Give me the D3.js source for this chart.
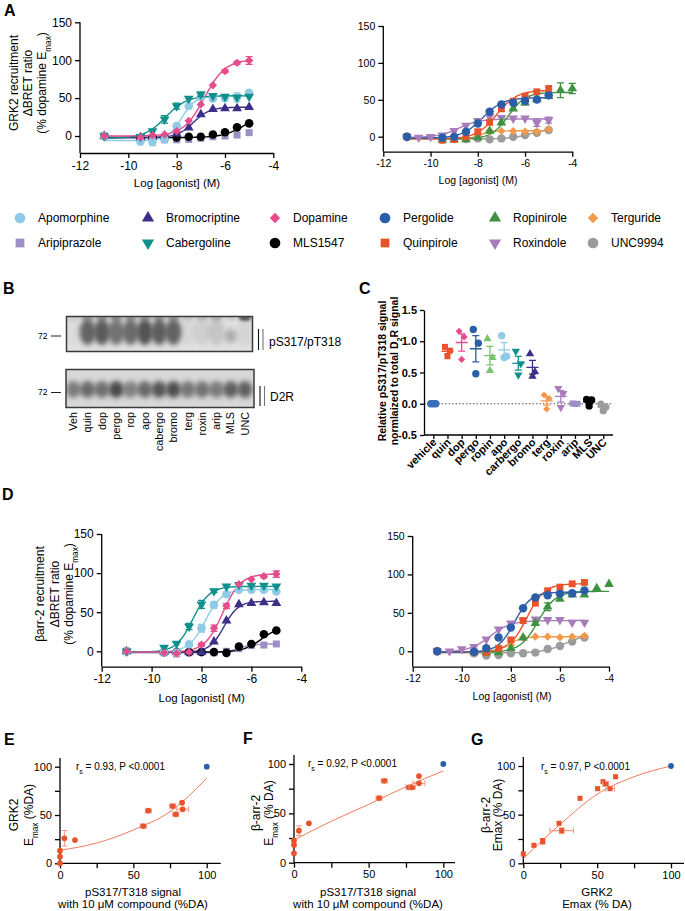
<!DOCTYPE html>
<html><head><meta charset="utf-8">
<script src="https://cdn.jsdelivr.net/npm/d3@7"></script>
<style>
body{margin:0;background:#fff}
svg{display:block;font-family:"Liberation Sans",Arial,Helvetica,sans-serif}
</style>
</head><body>
<svg id="fig" width="685" height="911"></svg>
<script>
// ================= DATA =================
const xTicksDR = [-12, -10, -8, -6, -4];
const yTicksDR = [0, 50, 100, 150];
const concStd = [-11, -9.5, -9, -8.5, -8, -7.5, -7, -6.5, -6, -5.5, -5];
const concRox = [-11, -10.5, -10, -9.5, -9, -8.5, -8, -7.5, -7, -6.5, -6, -5.5, -5];
const concRop = [-9.5, -9, -8.5, -8, -7.5, -7, -6.5, -6, -5.5, -5, -4.5, -4];

// Panel A: GRK2 recruitment (% dopamine Emax)
const grk2Apo   = [0, -7.5, -7.5, -4.4, 13, 39.5, 51.8, 49.5, 50, 51, 57];
const grk2Arip  = [0, -3, -4, -5, -5, -4.5, -3, -1, 0, 1.3, 4.4];
const grk2Bromo = [0, -2, -1, 0, 3, 11, 28.5, 35.5, 36.4, 36.4, 38];
const grk2Cab   = [0, -1, 6.5, 22, 39.5, 49.5, 55, 53, 52, 51, 52];
const grk2Dop   = [0, -2, 1, 2, 6.5, 20, 41.7, 67, 85.5, 96.5, 99.6];
const grk2Mls   = [0, -3, -2, -3, -2, -1, -1, 2, 5, 11.4, 16.7];
const grk2Perg  = [0, -1.4, 0, 6.8, 18, 33.8, 43.7, 46, 48.6, 50.5, 56];
const grk2Quin  = [0, -4.5, -3.6, 0, 6.8, 19.4, 37.8, 48, 55, 60.8, 65.3];
const grk2Rop   = [-4.5, -4, -3.6, -1, 7.7, 19, 38, 46, 50.5, 55, 63, 65.3];
const grk2Rox   = [0, -1, 0, 2, 8, 15, 21.6, 27, 25.7, 24.8, 24.8, 19, 22.5];
const grk2Terg  = [0, -2, -2, -2, 2, 8, 7.7, 7.7, 6.8, 6.8, 10];
const grk2Unc   = [0, -4, -3, -3, -2.3, -3.6, -2.3, 0, 2.3, 5.4, 9];
const grk2ApoErr = [0, 0, 5, 0, 3, 2, 2, 3, 0, 6, 2];
const grk2CabErr = [0, 0, 0, 5, 4, 0, 3, 0, 0, 0, 0];
const grk2DopErr = [0, 0, 0, 0, 0, 0, 0, 0, 2, 2, 5];
const grk2RopErr = [0, 0, 0, 0, 0, 0, 0, 3, 0, 0, 10, 7];
const grk2RoxErr = [0, 0, 0, 0, 0, 0, 0, 0, 0, 0, 0, 5, 4];
// fitted curve parameters: [bottom, top, logEC50, hill]
const fitGrk2 = {
  Apomorphine: [-6, 53, -7.8, 1.5], Bromocriptine: [-2, 38, -7.3, 1.3], Cabergoline: [-3, 53, -8.45, 1],
  Dopamine: [0, 101, -6.85, 1], MLS1547: [-2, 30, -5.2, 1], Aripiprazole: null,
  Pergolide: [-2, 53, -7.8, 1], Quinpirole: [-3, 63, -7.2, 1], Ropinirole: [-3, 60, -6.7, 1.2],
  Roxindole: [-1, 24, -8.8, 1], Terguride: [-3, 8, -7.9, 2], UNC9994: [-3, 12, -5.7, 1]
};

// Panel D: beta-arrestin-2 recruitment (% dopamine Emax)
const barrApo   = [0, -1, -1.7, 9, 29.5, 59.4, 73, 78.6, 78.6, 78.6, 76.5];
const barrArip  = [0, -2, -3.4, -2, -1, -2, 0, 3.4, 7.3, 8, 9.4];
const barrBromo = [0, -1, -1, -1, -1, 12.4, 39.3, 60, 61.5, 62.4, 61.5];
const barrCab   = [0, 4.7, 10, 31.6, 60, 77, 83, 85, 84, 84, 83];
const barrDop   = [0, -1.7, -2.6, -1, 8.5, 29.5, 58, 86, 92, 96, 98.7];
const barrMls   = [0, -1, -1, -1, -1, -1, -2, 6, 9.4, 21.8, 26.5];
const barrPerg  = [0, -0.5, 3.9, 18, 31, 56, 70, 73, 74.8, 75.6, 79];
const barrQuin  = [0, -1, -1.7, 3.9, 14.8, 40, 62.6, 78.7, 83.5, 87.8, 89.6];
const barrRop   = [-1, -1, -1.5, 3.9, 17.8, 36.5, 58, 68, 73.5, 73.5, 82, 87.4];
const barrRox   = [0, 0, 3, 6, 15.6, 28.7, 36.5, 40, 41.7, 40.9, 40.9, 37.4, 37.4];
const barrTerg  = [0, -1, -1, 1.7, 8, 17.8, 19, 19, 18, 19, 20];
const barrUnc   = [0, -2.6, -5.6, -4.8, -2.6, -2.6, -1.7, 3, 7, 12.6, 18];
const barrApoErr = [0, 0, 0, 0, 5, 4, 2, 0, 0, 0, 0];
const barrCabErr = [0, 0, 0, 4, 5, 2, 0, 0, 0, 0, 0];
const barrDopErr = [0, 0, 0, 0, 2, 4, 3, 0, 0, 2, 4];
const barrRopErr = [0, 0, 0, 0, 0, 2, 5, 0, 0, 0, 0, 0];
const fitBarr = {
  Apomorphine: [-1, 79, -7.85, 1.3], Aripiprazole: [-2, 9.5, -6.5, 1.5], Bromocriptine: [-1, 64, -7.1, 1.5],
  Cabergoline: [-1, 83, -8.35, 1.3], Dopamine: [-1, 99, -7.15, 1.2], MLS1547: [-1, 32, -5.6, 1.2],
  Pergolide: [-1, 77, -7.85, 1.3], Quinpirole: [-1, 88, -7.35, 1.2], Ropinirole: [-1, 78, -6.9, 1.2],
  Roxindole: [-1, 40, -8.85, 1], Terguride: [-1, 19, -8.1, 1.5], UNC9994: [-2, 22, -5.8, 1]
};

// Legend
const legendNames = ["Apomorphine", "Bromocriptine", "Dopamine", "Pergolide", "Ropinirole", "Terguride",
                     "Aripiprazole", "Cabergoline", "MLS1547", "Quinpirole", "Roxindole", "UNC9994"];

// Panel B: western blot
const blotLanes = ["Veh", "quin", "dop", "pergo", "rop", "apo", "cabergo", "bromo", "terg", "roxin", "arip", "MLS", "UNC"];
const phosphoBand = [0.02, 0.75, 0.8, 0.66, 0.7, 0.85, 0.78, 0.76, 0.05, 0.1, 0.16, 0.3, 0.06];
const phosphoTop  = [0.1, 0.35, 0.35, 0.4, 0.35, 0.35, 0.35, 0.35, 0.15, 0.2, 0.25, 0.1, 0.8];
const totalBand   = [0.55, 0.66, 0.62, 0.85, 0.52, 0.66, 0.78, 0.82, 0.58, 0.6, 0.55, 0.72, 0.72];

// Panel C: relative pS317/pT318 signal
const cCats = ["vehicle", "quin", "dop", "pergo", "ropin", "apo", "carbergo", "bromo", "terg", "roxin", "arip", "MLS", "UNC"];
const cVals = [[0, 0, 0], [0.91, 0.85, 0.76], [1.16, 1.07, 0.71], [1.19, 0.97, 0.48], [1.04, 0.74, 0.53],
  [1.09, 0.76, 0.74], [0.84, 0.64, 0.46], [0.80, 0.51, 0.44], [0.14, 0.085, -0.085], [0.245, 0.165, -0.06],
  [0.005, 0, -0.005], [0.07, 0.06, -0.035], [-0.005, -0.05, -0.11]];
const cTicks = [-0.5, 0, 0.5, 1.0, 1.5];

// Panels E, F, G: correlations
const corrTicks = [0, 25, 50, 75, 100];
const eX = [0, 0, 0, 3, 10.2, 56.8, 60.2, 76.8, 78.9, 83.2, 83.6];
const eY = [0, 6.9, 13.1, 25.9, 24, 38.6, 54.5, 59.3, 50.7, 62.8, 55.9];
const eXerr = [0, 0, 0, 0, 0, 2, 2, 2, 2, 0, 4];
const eYerr = [0, 0, 0, 8, 0, 0, 0, 0, 0, 0, 0];
const eFit = [[0, 13.5], [25, 21], [50, 34.5], [75, 53.5], [100, 88]];
const fX = [0, 0, 0, 3.3, 10, 57, 60.5, 77, 79.2, 83.7, 83.7];
const fY = [9.5, 17.9, 22.3, 32.4, 39.9, 65.5, 83, 76.4, 76.4, 87.8, 80.4];
const fXerr = [0, 0, 0, 0, 0, 2, 2, 2, 2, 0, 4];
const fYerr = [0, 0, 0, 5, 0, 0, 0, 0, 0, 0, 0];
const fFit = [[0, 23], [25, 42], [50, 59], [75, 77], [100, 93]];
const gX = [0, 7.2, 13.1, 13.1, 24.2, 26, 38.4, 50.3, 54, 55.8, 58.7, 62.5];
const gY = [9.6, 18.5, 23.3, 21.9, 41.1, 33.6, 66.8, 76.7, 83.9, 81.5, 76.7, 89];
const gXerr = [0, 0, 0, 0, 0, 8, 0, 0, 0, 2, 3, 0];
const gYerr = [0, 0, 2, 0, 0, 3, 0, 0, 0, 0, 0, 0];
const gFit = [[0, 5], [25, 40], [50, 71], [75, 89], [100, 100]];
const dopRef = [100, 100];

// ================= STYLE =================
const STYLE = {
  Apomorphine: {c: "#8fcbe6", s: "circle"}, Aripiprazole: {c: "#9c8fc6", s: "square"},
  Bromocriptine: {c: "#3b2f88", s: "triUp"}, Cabergoline: {c: "#10908c", s: "triDown"},
  Dopamine: {c: "#e64b8c", s: "diamond"}, MLS1547: {c: "#000000", s: "circle"},
  Pergolide: {c: "#2b5ea9", s: "circle"}, Quinpirole: {c: "#e8532b", s: "square"},
  Ropinirole: {c: "#3e9140", s: "triUp"}, Roxindole: {c: "#a87bba", s: "triDown"},
  Terguride: {c: "#f39a4a", s: "diamond"}, UNC9994: {c: "#9b9b9b", s: "circle"}
};
const svg = d3.select("#fig");
const symType = {circle: d3.symbolCircle, square: d3.symbolSquare, triUp: d3.symbolTriangle, triDown: d3.symbolTriangle, diamond: d3.symbolSquare};
function symPath(shape, size) {
  const sz = shape === "diamond" ? size * 0.6 : shape.startsWith("tri") ? size * 0.72 : shape === "square" ? size * 0.85 : size;
  return d3.symbol().type(symType[shape]).size(sz)();
}
function symRot(shape) { return shape === "triDown" ? " rotate(180)" : shape === "diamond" ? " rotate(45)" : ""; }
function drawSym(g, x, y, shape, color, size) {
  g.append("path").attr("d", symPath(shape, size)).attr("fill", color)
    .attr("transform", `translate(${x},${y})${symRot(shape)}`);
}
function styleAxis(sel, fs, bold) {
  sel.attr("font-family", null).attr("font-size", fs);
  sel.selectAll("line").attr("stroke", "#000").attr("stroke-width", 1.3);
  sel.selectAll("path").attr("stroke", "#000").attr("stroke-width", 1.3);
  sel.selectAll("text").attr("fill", "#000").attr("font-weight", bold ? "bold" : null);
}
function label(txt, x, y, o = {}) {
  const t = svg.append("text").attr("x", x).attr("y", y).text(txt)
    .attr("font-size", o.fs || 12).attr("fill", o.fill || "#000");
  if (o.anchor) t.attr("text-anchor", o.anchor);
  if (o.bold) t.attr("font-weight", "bold");
  return t;
}
function rotLines(lines, x0, dx, cy, fs, bold) {
  lines.forEach((parts, i) => {
    const t = svg.append("text").attr("transform", `translate(${x0 + i * dx},${cy}) rotate(-90)`)
      .attr("text-anchor", "middle").attr("dy", "0.35em").attr("font-size", fs)
      .attr("font-weight", bold ? "bold" : null);
    parts.forEach(p => {
      const ts = t.append("tspan").text(p.t);
      if (p.sub) ts.attr("baseline-shift", "sub").attr("font-size", fs * 0.68);
    });
  });
}

// ================= PANEL LETTERS =================
[["A", 4, 16], ["B", 3, 294], ["C", 359, 294], ["D", 2, 500], ["E", 4, 745], ["F", 243, 744], ["G", 471, 745]]
  .forEach(([t, x, y]) => label(t, x, y, {fs: 16, bold: true}));

// ================= DOSE-RESPONSE =================
function drawDR(cfg, series, fits) {
  const g = svg.append("g");
  const x = d3.scaleLinear().domain([-12, -4]).range([cfg.left, cfg.right]);
  const y = d3.scaleLinear().domain([0, 150]).range([cfg.y0, cfg.y150]);
  const gy = g.append("g").attr("transform", `translate(${cfg.left},0)`)
    .call(d3.axisLeft(y).tickValues(yTicksDR).tickSize(5).tickFormat(d => String(d)));
  gy.select(".domain").remove();
  g.append("line").attr("x1", cfg.left).attr("x2", cfg.left).attr("y1", cfg.axisY).attr("y2", y(150));
  const gx = g.append("g").attr("transform", `translate(0,${cfg.axisY})`)
    .call(d3.axisBottom(x).tickValues(xTicksDR).tickSize(5).tickSizeOuter(0).tickFormat(d => String(d)));
  [gy, gx].forEach(a => styleAxis(a, cfg.fs));
  g.selectAll("line").attr("stroke", "#000").attr("stroke-width", 1.3);
  const line = d3.line().x(d => x(d[0])).y(d => y(d[1]));
  series.forEach(s => {
    const f = fits[s.name];
    if (!f) return;
    const [b, t, ec, h] = f;
    const xs = d3.range(d3.min(s.x), d3.max(s.x) + 0.001, 0.05);
    const pts = xs.map(v => [v, b + (t - b) / (1 + Math.pow(10, (ec - v) * h))]);
    g.append("path").attr("d", line(pts)).attr("fill", "none")
      .attr("stroke", STYLE[s.name].c).attr("stroke-width", 1.4);
  });
  series.forEach(s => {
    const st = STYLE[s.name];
    s.y.forEach((v, i) => {
      const e = s.err ? s.err[i] : 0;
      const cx = x(s.x[i]), cy = y(v);
      if (e > 0) {
        g.append("path").attr("d", `M${cx},${y(v - e)}V${y(v + e)}M${cx - 3.5},${y(v + e)}h7M${cx - 3.5},${y(v - e)}h7`)
          .attr("stroke", st.c).attr("stroke-width", 1.3).attr("fill", "none");
      }
      drawSym(g, cx, cy, st.s, st.c, cfg.ms);
    });
  });
  label("Log [agonist] (M)", cfg.labX, cfg.labY, {fs: cfg.lfs, anchor: "middle"});
}

const sA1 = [
  {name: "Aripiprazole", x: concStd, y: grk2Arip}, {name: "MLS1547", x: concStd, y: grk2Mls},
  {name: "Bromocriptine", x: concStd, y: grk2Bromo}, {name: "Apomorphine", x: concStd, y: grk2Apo, err: grk2ApoErr},
  {name: "Cabergoline", x: concStd, y: grk2Cab, err: grk2CabErr}, {name: "Dopamine", x: concStd, y: grk2Dop, err: grk2DopErr}];
const sA2 = [
  {name: "UNC9994", x: concStd, y: grk2Unc}, {name: "Terguride", x: concStd, y: grk2Terg},
  {name: "Roxindole", x: concRox, y: grk2Rox, err: grk2RoxErr}, {name: "Ropinirole", x: concRop, y: grk2Rop, err: grk2RopErr},
  {name: "Quinpirole", x: concStd, y: grk2Quin}, {name: "Pergolide", x: concStd, y: grk2Perg}];
const sD1 = [
  {name: "Aripiprazole", x: concStd, y: barrArip}, {name: "MLS1547", x: concStd, y: barrMls},
  {name: "Bromocriptine", x: concStd, y: barrBromo}, {name: "Apomorphine", x: concStd, y: barrApo, err: barrApoErr},
  {name: "Cabergoline", x: concStd, y: barrCab, err: barrCabErr}, {name: "Dopamine", x: concStd, y: barrDop, err: barrDopErr}];
const sD2 = [
  {name: "UNC9994", x: concStd, y: barrUnc}, {name: "Terguride", x: concStd, y: barrTerg},
  {name: "Roxindole", x: concRox, y: barrRox}, {name: "Ropinirole", x: concRop, y: barrRop, err: barrRopErr},
  {name: "Quinpirole", x: concStd, y: barrQuin}, {name: "Pergolide", x: concStd, y: barrPerg}];

drawDR({left: 80, right: 273.3, y0: 136, y150: 22.3, axisY: 153, fs: 12, lfs: 11.5, ms: 58, labX: 177, labY: 187}, sA1, fitGrk2);
drawDR({left: 383.3, right: 572.3, y0: 136.7, y150: 26, axisY: 151.7, fs: 10.5, lfs: 10.5, ms: 56, labX: 478, labY: 184}, sA2, fitGrk2);
drawDR({left: 101.7, right: 301.3, y0: 651.3, y150: 534, axisY: 666.7, fs: 12, lfs: 11.5, ms: 58, labX: 201.7, labY: 702}, sD1, fitBarr);
drawDR({left: 412.7, right: 609, y0: 651.3, y150: 536, axisY: 666.7, fs: 10.5, lfs: 10.5, ms: 56, labX: 512, labY: 700}, sD2, fitBarr);

rotLines([[{t: "GRK2 recruitment"}], [{t: "ΔBRET ratio"}], [{t: "(% dopamine E"}, {t: "max", sub: true}, {t: ")"}]], 14, 14, 83, 12);
rotLines([[{t: "βarr-2 recruitment"}], [{t: "ΔBRET ratio"}], [{t: "(% dopamine E"}, {t: "max", sub: true}, {t: ")"}]], 40, 14.5, 594, 12);

// ================= LEGEND =================
const legX = [20, 148, 275, 385, 495, 593];
const legY = [218, 243];
legendNames.forEach((n, i) => {
  const cx = legX[i % 6], cy = legY[Math.floor(i / 6)];
  drawSym(svg, cx, cy, STYLE[n].s, STYLE[n].c, 90);
  label(n, cx + 18, cy, {fs: 12}).attr("dy", "0.35em");
});

// ================= PANEL B (blot) =================
const defs = svg.append("defs");
defs.append("filter").attr("id", "blur").attr("x", "-50%").attr("y", "-50%").attr("width", "200%").attr("height", "200%")
  .append("feGaussianBlur").attr("stdDeviation", 2.8);
defs.append("filter").attr("id", "blur2").attr("x", "-50%").attr("y", "-50%").attr("width", "200%").attr("height", "200%")
  .append("feGaussianBlur").attr("stdDeviation", 1.6);
defs.append("clipPath").attr("id", "clipTop").append("rect").attr("x", 66.5).attr("y", 316.5).attr("width", 186).attr("height", 35);
defs.append("clipPath").attr("id", "clipBot").append("rect").attr("x", 66).attr("y", 369.5).attr("width", 188).attr("height", 38);
const lx = d3.scalePoint().domain(blotLanes).range([73.3, 245]);

svg.append("rect").attr("x", 66.5).attr("y", 316.5).attr("width", 186).attr("height", 35).attr("fill", "#e0e0e0");
const gTop = svg.append("g").attr("clip-path", "url(#clipTop)");
blotLanes.forEach((l, i) => {
  gTop.append("ellipse").attr("cx", lx(l)).attr("cy", i === 11 ? 336 : 332).attr("rx", i === 11 ? 6 : 8).attr("ry", i === 11 ? 7 : 13)
    .attr("fill", "#3a3a3a").attr("opacity", phosphoBand[i]).attr("filter", "url(#blur)");
  gTop.append("ellipse").attr("cx", lx(l)).attr("cy", 318).attr("rx", 6.5).attr("ry", 3)
    .attr("fill", "#333").attr("opacity", phosphoTop[i]).attr("filter", "url(#blur2)");
});
svg.append("rect").attr("x", 66.5).attr("y", 316.5).attr("width", 186).attr("height", 35).attr("fill", "none").attr("stroke", "#3a3a3a").attr("stroke-width", 1.5);

svg.append("rect").attr("x", 66).attr("y", 369.5).attr("width", 188).attr("height", 38).attr("fill", "#d8d8d8");
const gBot = svg.append("g").attr("clip-path", "url(#clipBot)");
blotLanes.forEach((l, i) => {
  gBot.append("ellipse").attr("cx", lx(l)).attr("cy", 389.5).attr("rx", 7.5).attr("ry", 8.5)
    .attr("fill", "#333").attr("opacity", totalBand[i]).attr("filter", "url(#blur)");
});
svg.append("rect").attr("x", 66).attr("y", 369.5).attr("width", 188).attr("height", 38).attr("fill", "none").attr("stroke", "#3a3a3a").attr("stroke-width", 1.5);

[336, 392.5].forEach(yy => {
  label("72", 38, yy, {fs: 8.5}).attr("dy", "0.35em");
  svg.append("line").attr("x1", 51).attr("x2", 61).attr("y1", yy).attr("y2", yy).attr("stroke", "#222").attr("stroke-width", 1);
});
[[258.5, 329, 350], [260, 386, 406]].forEach(([bx, y1, y2]) => {
  svg.append("line").attr("x1", bx).attr("x2", bx).attr("y1", y1).attr("y2", y2).attr("stroke", "#111").attr("stroke-width", 1.1);
  svg.append("line").attr("x1", bx + 4.5).attr("x2", bx + 4.5).attr("y1", y1).attr("y2", y2).attr("stroke", "#777").attr("stroke-width", 1.1);
});
label("pS317/pT318", 269, 342, {fs: 12}).attr("dy", "0.35em");
label("D2R", 270, 397, {fs: 12}).attr("dy", "0.35em");
blotLanes.forEach(l => {
  svg.append("text").attr("transform", `translate(${lx(l)},412) rotate(-90)`).attr("text-anchor", "end")
    .attr("dy", "0.35em").attr("font-size", 10.8).text(l);
});

// ================= PANEL C =================
const cStyle = [
  {c: "#3a6eb6", s: "circle"}, STYLE.Quinpirole, STYLE.Dopamine, STYLE.Pergolide, {c: "#7cc36f", s: "triUp"},
  STYLE.Apomorphine, STYLE.Cabergoline, STYLE.Bromocriptine, STYLE.Terguride, STYLE.Roxindole,
  STYLE.Aripiprazole, STYLE.MLS1547, STYLE.UNC9994];
{
  const g = svg.append("g");
  const x = d3.scalePoint().domain(cCats).range([433.3, 603.3]);
  const y = d3.scaleLinear().domain([-0.5, 1.5]).range([435, 310]);
  g.append("line").attr("x1", 424).attr("x2", 613).attr("y1", y(0)).attr("y2", y(0))
    .attr("stroke", "#555").attr("stroke-width", 1.2).attr("stroke-dasharray", "1.5,2");
  const gy = g.append("g").attr("transform", "translate(424,0)")
    .call(d3.axisLeft(y).tickValues(cTicks).tickSize(4).tickSizeOuter(0).tickFormat(d => d.toFixed(1)));
  const gx = g.append("g").attr("transform", "translate(0,435)")
    .call(d3.axisBottom(x).tickSize(4).tickSizeOuter(0).tickFormat(""));
  gx.select(".domain").attr("d", "M424,0H613");
  styleAxis(gy, 11, true); styleAxis(gx, 11, true);
  cCats.forEach((cat, i) => {
    g.append("text").attr("transform", `translate(${x(cat) + 4},443) rotate(-45)`).attr("text-anchor", "end")
      .attr("font-size", 11).attr("font-weight", "bold").text(cat);
    const vals = cVals[i], st = cStyle[i];
    const m = d3.mean(vals), se = d3.deviation(vals) / Math.sqrt(vals.length);
    const cx = x(cat);
    const offs = [-2.5, 2.5, 0];
    vals.forEach((v, j) => drawSym(g, cx + offs[j], y(v), st.s, st.c, 42));
    g.append("path").attr("d", `M${cx - 6},${y(m)}h12M${cx},${y(m - se)}V${y(m + se)}M${cx - 3.5},${y(m + se)}h7M${cx - 3.5},${y(m - se)}h7`)
      .attr("stroke", st.c).attr("stroke-width", 1.3).attr("fill", "none");
  });
}
rotLines([[{t: "Relative pS317/pT318 signal"}], [{t: "normlaized to total D"}, {t: "2", sub: true}, {t: "R signal"}]], 382, 12.5, 371, 10.5, true);

// ================= PANELS E, F, G =================
function drawCorr(cfg, xs, ys, xe, ye, fit, shape) {
  const g = svg.append("g");
  const x = d3.scaleLinear().domain([0, 100]).range([cfg.left, cfg.x100]);
  const y = d3.scaleLinear().domain([0, 100]).range([cfg.bottom, cfg.y100]);
  const gx = g.append("g").attr("transform", `translate(0,${cfg.bottom})`)
    .call(d3.axisBottom(x).tickValues(corrTicks).tickSize(5).tickFormat(d => d % 50 === 0 ? String(d) : ""));
  gx.select(".domain").attr("d", `M${cfg.left},0H${cfg.xEnd}`);
  const gy = g.append("g").attr("transform", `translate(${cfg.left},0)`)
    .call(d3.axisLeft(y).tickValues(corrTicks).tickSize(5).tickFormat(d => d % 50 === 0 ? String(d) : ""));
  gy.select(".domain").attr("d", `M0,${cfg.bottom}V${cfg.yTop}`);
  styleAxis(gx, 11); styleAxis(gy, 11);
  g.append("path").attr("d", d3.line().curve(d3.curveMonotoneX).x(d => x(d[0])).y(d => y(d[1]))(fit))
    .attr("fill", "none").attr("stroke", "#f07a5c").attr("stroke-width", 1);
  xs.forEach((v, i) => {
    const cx = x(v), cy = y(ys[i]);
    if (xe[i] > 0) g.append("path").attr("d", `M${x(v - xe[i])},${cy}H${x(v + xe[i])}M${x(v - xe[i])},${cy - 3}v6M${x(v + xe[i])},${cy - 3}v6`)
      .attr("stroke", "#f2a08a").attr("stroke-width", 1.1).attr("fill", "none");
    if (ye[i] > 0) g.append("path").attr("d", `M${cx},${y(ys[i] - ye[i])}V${y(ys[i] + ye[i])}M${cx - 3},${y(ys[i] + ye[i])}h6M${cx - 3},${y(ys[i] - ye[i])}h6`)
      .attr("stroke", "#f2a08a").attr("stroke-width", 1.1).attr("fill", "none");
    drawSym(g, cx, cy, shape, "#e8532b", shape === "square" ? 30 : 26);
  });
  drawSym(g, x(dopRef[0]), y(dopRef[1]), "circle", "#2b5ea9", 26);
  const t = g.append("text").attr("x", cfg.annX).attr("y", cfg.annY).attr("font-size", 10).attr("dy", "0.35em");
  t.append("tspan").text("r");
  t.append("tspan").text("s").attr("baseline-shift", "sub").attr("font-size", 7);
  t.append("tspan").text(cfg.ann);
  cfg.xlab.forEach((s, i) => label(s, cfg.labX, 896 + i * 11.5, {fs: 11.5, anchor: "middle"}));
}
drawCorr({left: 60, bottom: 863.3, x100: 206.7, y100: 766.7, xEnd: 220.7, yTop: 758, annX: 76, annY: 766,
  ann: " = 0.93, P <0.0001", labX: 133, xlab: ["pS317/T318 signal", "with 10 μM compound (%DA)"]}, eX, eY, eXerr, eYerr, eFit, "circle");
drawCorr({left: 294, bottom: 862.7, x100: 443.3, y100: 764, xEnd: 455, yTop: 755, annX: 308, annY: 763,
  ann: " = 0.92, P <0.0001", labX: 368, xlab: ["pS317/T318 signal", "with 10 μM compound (%DA)"]}, fX, fY, fXerr, fYerr, fFit, "circle");
drawCorr({left: 523.3, bottom: 863.3, x100: 671, y100: 766, xEnd: 684, yTop: 757, annX: 541, annY: 766,
  ann: " = 0.97, P <0.0001", labX: 597, xlab: ["GRK2", "Emax (% DA)"]}, gX, gY, gXerr, gYerr, gFit, "square");

rotLines([[{t: "GRK2"}], [{t: "E"}, {t: "max", sub: true}, {t: " (%DA)"}]], 14, 14.5, 815, 12);
rotLines([[{t: "β-arr-2"}], [{t: "E"}, {t: "max", sub: true}, {t: " (% DA)"}]], 256, 12.5, 813, 12);
rotLines([[{t: "β-arr-2"}], [{t: "Emax (% DA)"}]], 486, 12, 815, 12);
</script>
</body></html>
